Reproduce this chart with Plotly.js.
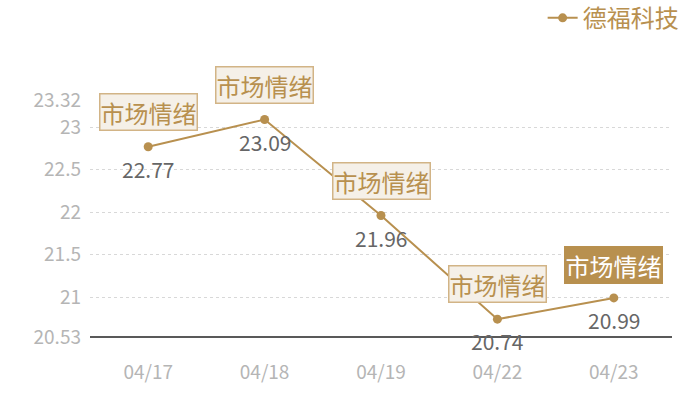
<!DOCTYPE html>
<html>
<head>
<meta charset="utf-8">
<script src="https://cdn.plot.ly/plotly-3.0.1.min.js"></script>
<style>
  html, body { margin: 0; padding: 0; background: #fff; }
  #chart { width: 700px; height: 400px; }
</style>
</head>
<body>
<div id="chart"></div>
<script>
// data
let dates = ['04/17', '04/18', '04/19', '04/22', '04/23'];
let prices = [22.77, 23.09, 21.96, 20.74, 20.99];
let tickValues = [20.53, 21, 21.5, 22, 22.5, 23, 23.32];
let seriesName = '德福科技';
let noteText = '市场情绪';

let gold = '#b8904f';
let font = 'Noto Sans CJK SC, Noto Sans, sans-serif';

let trace = {
  x: dates,
  y: prices,
  name: seriesName,
  type: 'scatter',
  mode: 'lines+markers',
  line: { color: gold, width: 2 },
  marker: { color: gold, size: 9 },
  cliponaxis: false
};

let notes = [];
for (let i = 0; i < dates.length; i++) {
  let last = i == dates.length - 1;
  // value under the point
  notes.push({
    x: dates[i],
    y: prices[i],
    xref: 'x',
    yref: 'y',
    text: prices[i].toFixed(2),
    showarrow: false,
    yshift: -22,
    font: { family: font, size: 21, color: '#666666' }
  });
  // label box above the point, the last one highlighted
  notes.push({
    x: dates[i],
    y: prices[i],
    xref: 'x',
    yref: 'y',
    text: noteText,
    showarrow: false,
    yshift: last ? 33 : 35,
    font: { family: font, size: 24, color: last ? '#ffffff' : gold },
    bgcolor: last ? gold : '#f5f0e8',
    bordercolor: last ? gold : '#d2b486',
    borderwidth: 1.5,
    borderpad: 0
  });
}

let layout = {
  width: 700,
  height: 400,
  margin: { l: 90, r: 28, t: 100, b: 63, autoexpand: false },
  paper_bgcolor: '#ffffff',
  plot_bgcolor: '#ffffff',
  showlegend: true,
  legend: {
    x: 1.02, xanchor: 'right',
    y: 1.44, yanchor: 'top',
    font: { family: font, size: 24, color: gold },
    itemwidth: 30
  },
  xaxis: {
    type: 'category',
    range: [-0.5, 4.5],
    showgrid: false,
    zeroline: false,
    showline: false,
    ticks: '',
    ticklabelstandoff: 22,
    tickfont: { family: font, size: 19, color: '#b5b5b5' }
  },
  yaxis: {
    range: [20.53, 23.32],
    tickmode: 'array',
    tickvals: tickValues,
    ticktext: tickValues.map(String),
    showgrid: true,
    gridcolor: '#d8d8d8',
    griddash: 'dot',
    zeroline: false,
    showline: false,
    ticks: '',
    ticklabelstandoff: 8,
    tickfont: { family: font, size: 19, color: '#b5b5b5' }
  },
  shapes: [{
    type: 'line', xref: 'paper', yref: 'paper', layer: 'above',
    x0: 0, x1: 1, y0: 0, y1: 0,
    line: { color: '#222222', width: 1.5 }
  }],
  annotations: notes
};

Plotly.newPlot('chart', [trace], layout, { displayModeBar: false, staticPlot: true });
</script>
</body>
</html>
